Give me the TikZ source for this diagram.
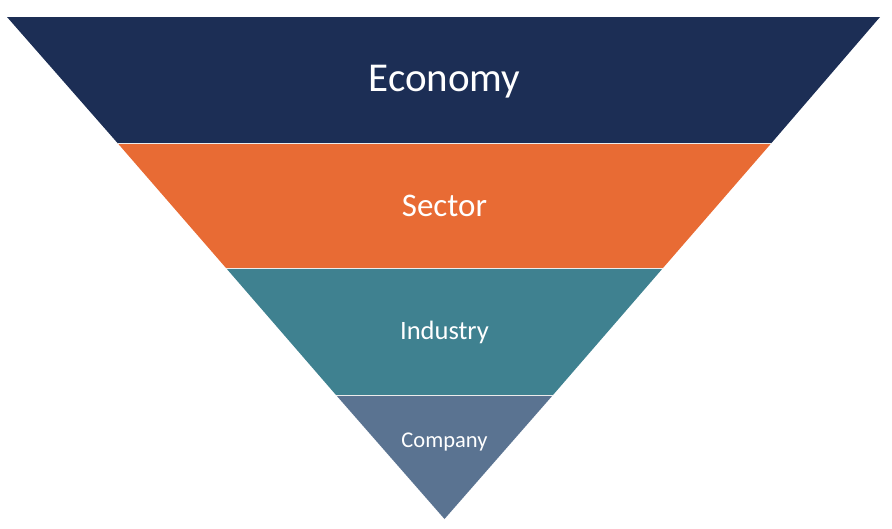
\documentclass[tikz,border=0pt]{standalone}
\usepackage{fontspec}
\setmainfont{Carlito}
\definecolor{economyblue}{HTML}{1C2E55}
\definecolor{sectororange}{HTML}{E86B34}
\definecolor{industryteal}{HTML}{3F8190}
\definecolor{companyslate}{HTML}{5A7391}
\tikzset{
  band/.style={draw=white!85!gray, line width=0.8pt, line join=miter},
  label/.style={text=white, inner sep=0pt}
}
\begin{document}
\begin{tikzpicture}[x=1pt,y=-1pt]
            \useasboundingbox (0,0) rectangle (892,528);
            
            % Draw the funnel bands
            \fill[economyblue] (7,17) -- (880,17) -- (771.5,143) -- (117.5,143) -- cycle;
            \fill[sectororange] (117.5,143) -- (771.5,143) -- (663,268) -- (226,268) -- cycle;
            \fill[industryteal] (226,268) -- (663,268) -- (553,395) -- (336,395) -- cycle;
            \fill[companyslate] (336,395) -- (553,395) -- (444.5,519) -- cycle;
            
            % Draw thin lines between bands
            \draw[band] (117.5,143) -- (771.5,143);
            \draw[band] (226,268) -- (663,268);
            \draw[band] (336,395) -- (553,395);
            
            % Draw labels
            \node[label, font=\fontsize{41}{48}\selectfont] (economy) at (444.5,82) {Economy};
            \node[label, font=\fontsize{33}{40}\selectfont] (sector) at (444.5,206) {Sector};
            \node[label, font=\fontsize{26.5}{31}\selectfont] (industry) at (444.5,332) {Industry};
            \node[label, font=\fontsize{22.5}{27}\selectfont] (company) at (444.5,442) {Company};
        \end{tikzpicture}
\end{document}
